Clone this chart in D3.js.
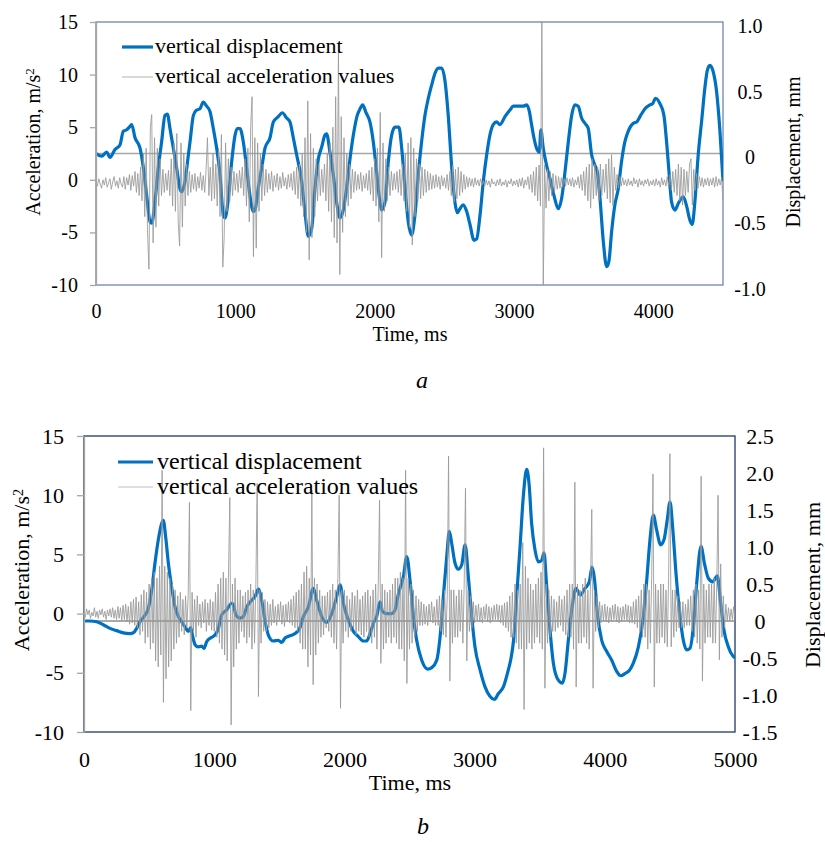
<!DOCTYPE html>
<html>
<head>
<meta charset="utf-8">
<script src="https://cdn.jsdelivr.net/npm/d3@7"></script>
<style>
  body { margin: 0; background: #fff; }
  svg { display: block; font-family: "Liberation Serif", "Times New Roman", serif; }
</style>
</head>
<body>
<svg id="fig" width="825" height="842"></svg>
<script>
// ---------- data ----------
const accTicks = [-10, -5, 0, 5, 10, 15];
const timeTicksA = [0, 1000, 2000, 3000, 4000];
const timeTicksB = [0, 1000, 2000, 3000, 4000, 5000];
const dispTicksA = [-1, -0.5, 0, 0.5, 1];
const dispTicksB = [-1.5, -1, -0.5, 0, 0.5, 1, 1.5, 2, 2.5];
const legendLabels = ["vertical displacement", "vertical acceleration values"];

// acceleration samples, one every 10 ms (m/s2)
const stepA = 10;
const accA = [
  -0.2,-0.6,0.1,-0.4,-0.8,0.0,-0.5,0.2,-0.7,-0.3,0.1,-0.9,-0.2,0.3,-0.6,-0.1,-0.8,0.2,-0.4,-0.7,
  0.3,-0.9,0.2,-0.5,0.5,-1.0,0.4,-0.6,0.8,-1.2,0.6,-1.5,1.2,-2.0,2.5,-3.5,3.0,-5.0,-8.5,5.0,
  6.2,-6.0,4.0,-4.5,3.0,-2.5,2.0,-1.5,1.0,-1.2,0.6,-1.0,0.9,-1.5,2.0,-2.5,3.5,-3.0,4.4,-4.0,
  -6.3,3.5,-4.5,2.5,-2.5,1.5,-1.5,0.8,-1.2,0.5,-0.9,0.6,-1.1,0.3,-0.8,0.7,-1.0,0.4,-1.2,1.0,
  4.0,-1.5,1.2,-2.0,2.5,-1.8,1.5,-2.5,3.0,-3.5,4.3,-8.3,-5.5,3.5,-3.0,2.0,-2.0,1.2,-1.5,0.8,
  -1.0,0.6,-1.2,0.9,-0.8,1.2,-1.5,2.0,-2.5,3.0,-4.0,5.0,7.9,-7.3,4.0,-6.5,3.5,-3.0,2.5,-2.0,
  1.5,-1.5,1.0,-1.2,0.6,-0.9,0.8,-1.1,0.4,-0.7,0.6,-1.0,0.3,-0.8,0.7,-0.6,0.2,-0.9,0.5,-0.7,
  0.6,-1.0,0.8,-1.4,1.2,-1.8,1.5,-2.5,2.5,-3.5,4.0,-5.0,7.5,-7.6,4.4,-5.5,3.0,-3.5,2.0,-2.0,
  1.5,-1.5,1.0,-1.2,1.5,-2.0,2.5,-3.0,3.5,-4.0,5.0,-5.5,7.9,-6.0,12.3,-9.0,6.0,-5.0,4.0,-3.5,
  2.5,-2.5,1.5,-1.8,1.0,-1.2,0.8,-1.0,0.5,-0.9,0.7,-1.1,0.4,-0.8,0.6,-1.0,0.9,-1.4,1.2,-2.0,
  2.0,-2.5,3.0,-4.0,6.4,-7.4,3.5,-3.0,2.0,-2.0,1.2,-1.5,0.8,-1.0,0.6,-0.9,0.8,-1.2,1.0,-1.5,
  1.5,-2.0,2.5,-3.0,3.5,-4.5,4.0,-6.2,3.0,-3.5,2.0,-2.0,1.5,-1.8,1.2,-1.5,1.0,-1.2,0.8,-1.0,
  0.6,-0.9,0.4,-0.8,0.5,-0.7,0.3,-0.9,0.4,-0.6,0.2,-0.8,0.5,-1.0,0.8,-1.5,1.4,-2.1,1.0,-1.8,
  1.2,-1.5,0.8,-1.2,0.5,-0.9,0.3,-0.7,0.2,-0.6,0.1,-0.7,0.2,-0.5,0.0,-0.6,0.1,-0.5,-0.1,-0.6,
  0.0,-0.5,-0.1,-0.7,0.1,-0.4,-0.2,-0.6,0.0,-0.5,0.1,-0.6,-0.2,-0.5,0.0,-0.7,-0.1,-0.4,0.1,-0.6,
  -0.1,-0.5,0.0,-0.7,0.1,-0.6,0.2,-0.8,0.0,-0.5,0.3,-0.9,0.5,-1.2,0.8,-1.5,1.2,-2.0,1.4,-2.5,
  15.5,-10.5,1.4,-2.7,1.0,-2.0,0.8,-1.5,0.6,-1.2,0.4,-0.9,0.3,-0.8,0.2,-0.7,0.1,-0.6,0.2,-0.5,
  0.1,-0.6,0.2,-0.7,0.0,-0.5,0.3,-0.8,0.5,-1.0,0.8,-1.5,1.2,-2.0,1.5,-2.7,2.0,-1.8,1.5,-1.5,
  1.2,-2.0,1.5,-1.5,1.0,-1.2,1.5,-1.8,2.0,-2.2,2.4,-2.5,1.2,-1.0,0.5,-0.8,0.3,-0.6,0.2,-0.5,
  0.0,-0.6,0.1,-0.5,-0.1,-0.6,0.2,-0.4,0.0,-0.7,0.1,-0.5,-0.1,-0.6,0.0,-0.4,0.1,-0.6,-0.1,-0.5,
  0.0,-0.6,0.1,-0.5,-0.1,-0.7,0.2,-0.5,0.0,-0.6,0.3,-0.8,0.5,-1.0,0.8,-1.2,1.0,-1.5,1.5,-2.0,
  1.2,-2.4,1.0,-1.5,0.8,-1.2,1.5,2.0,-2.4,1.0,-1.0,0.6,-0.8,0.3,-0.6,0.2,-0.7,0.1,-0.5,0.2,
  -0.6,0.1,-0.5,0.2,-0.7,0.3,-0.6,0.1,-0.5,0.2,-2.0
];

// displacement [time ms, mm]
const dispA = [
  [0,0.00],[41,-0.02],[77,0.01],[100,-0.03],[136,0.03],[172,0.065],[196,0.17],[220,0.18],[239,0.20],[256,0.22],
  [280,0.12],[316,0.04],[340,-0.11],[364,-0.32],[388,-0.52],[400,-0.53],[423,-0.37],[447,-0.11],[471,0.09],[495,0.29],
  [512,0.30],[531,0.19],[555,0.04],[579,-0.11],[603,-0.27],[615,-0.29],[639,-0.21],[663,-0.01],[675,0.09],[699,0.29],
  [722,0.33],[746,0.34],[770,0.39],[794,0.36],[818,0.32],[842,0.19],[866,0.04],[890,-0.16],[914,-0.47],[926,-0.49],
  [950,-0.34],[974,-0.06],[998,0.14],[1014,0.19],[1033,0.19],[1057,0.09],[1081,-0.11],[1105,-0.32],[1129,-0.44],[1141,-0.43],
  [1165,-0.26],[1189,-0.11],[1213,0.04],[1249,0.12],[1273,0.24],[1308,0.28],[1337,0.31],[1368,0.27],[1392,0.24],[1416,0.12],
  [1440,-0.01],[1476,-0.21],[1500,-0.45],[1524,-0.63],[1548,-0.57],[1572,-0.26],[1596,-0.04],[1620,0.05],[1643,0.14],[1655,0.15],
  [1679,0.01],[1703,-0.16],[1727,-0.37],[1751,-0.49],[1770,-0.45],[1799,-0.26],[1823,-0.04],[1847,0.14],[1875,0.29],[1895,0.34],
  [1914,0.37],[1938,0.31],[1966,0.24],[1990,0.09],[2014,-0.14],[2038,-0.37],[2050,-0.43],[2074,-0.37],[2098,-0.06],[2122,0.14],
  [2146,0.20],[2174,0.20],[2194,0.04],[2218,-0.26],[2241,-0.52],[2265,-0.62],[2289,-0.47],[2313,-0.16],[2337,0.09],[2361,0.29],
  [2385,0.42],[2409,0.52],[2433,0.61],[2457,0.65],[2481,0.65],[2505,0.55],[2528,0.29],[2552,-0.09],[2576,-0.37],[2593,-0.45],
  [2612,-0.42],[2636,-0.39],[2660,-0.44],[2684,-0.54],[2713,-0.66],[2732,-0.65],[2756,-0.47],[2780,-0.21],[2804,-0.01],[2827,0.14],
  [2851,0.22],[2875,0.24],[2899,0.22],[2935,0.28],[2971,0.33],[2995,0.36],[3031,0.36],[3067,0.36],[3091,0.37],[3110,0.32],
  [3126,0.22],[3143,0.12],[3162,0.04],[3182,0.01],[3193,0.18],[3210,0.04],[3234,-0.09],[3258,-0.19],[3287,-0.32],[3318,-0.42],
  [3342,-0.34],[3366,-0.14],[3390,0.09],[3414,0.29],[3437,0.37],[3461,0.36],[3485,0.27],[3509,0.23],[3533,0.19],[3557,-0.01],
  [3581,-0.09],[3598,-0.14],[3617,-0.34],[3641,-0.67],[3665,-0.86],[3681,-0.82],[3701,-0.59],[3724,-0.39],[3748,-0.27],[3772,-0.06],
  [3796,0.09],[3820,0.17],[3856,0.23],[3880,0.24],[3909,0.29],[3940,0.34],[3976,0.37],[3995,0.38],[4016,0.42],[4047,0.38],
  [4076,0.29],[4095,0.09],[4114,-0.16],[4131,-0.37],[4155,-0.43],[4179,-0.38],[4215,-0.33],[4239,-0.40],[4263,-0.51],[4279,-0.54],
  [4298,-0.37],[4322,-0.01],[4346,0.24],[4370,0.50],[4387,0.63],[4406,0.67],[4430,0.62],[4454,0.47],[4478,0.17],[4500,-0.21]
];

const stepB = 10;
const accB = [
  0.2,-0.3,0.4,-0.1,0.3,-0.4,0.1,-0.2,0.5,-0.3,0.2,-0.4,0.3,-0.1,0.4,-0.3,0.2,-0.5,0.3,-0.2,
  0.4,-0.3,0.5,-0.4,0.3,-0.5,0.6,-0.4,0.5,-0.6,0.7,-0.5,0.8,-0.7,0.6,-0.9,1.0,-0.8,1.2,-1.0,
  1.4,-1.2,1.0,-1.8,1.6,-1.5,2.0,-2.5,1.8,-2.0,2.5,-3.0,3.0,-2.5,3.5,-4.0,3.0,-4.5,4.0,-3.5,
  12.1,-7.5,4.0,-5.5,3.5,-4.5,3.0,-4.0,2.5,-3.0,2.0,-2.5,1.5,-2.0,1.8,-1.5,1.2,-1.8,1.5,-1.2,
  1.5,9.4,-8.2,1.8,-1.5,1.2,-2.0,1.5,-1.0,0.8,-1.2,1.0,-0.8,1.2,-1.5,0.9,-1.0,1.2,-1.4,1.0,
  -1.5,1.8,-2.0,2.5,-2.5,3.0,-3.0,3.5,-3.5,3.0,-4.0,3.5,9.8,-9.4,2.5,-4.5,3.0,-3.0,2.0,-2.5,
  2.0,-1.5,1.5,-2.0,1.8,-2.5,2.0,-2.0,2.5,-3.0,2.0,-2.5,2.5,11.0,-7.0,2.0,-2.5,1.8,-1.5,1.2,
  -1.5,1.0,-1.2,0.8,-1.0,1.2,-0.8,0.6,-1.0,0.8,-0.6,1.0,-0.9,0.7,-1.1,0.8,-0.7,1.0,-0.8,1.2,
  -1.0,1.5,-1.2,1.8,-1.5,2.0,-2.5,2.5,-3.0,3.5,-3.0,4.0,-4.5,3.0,-3.5,10.4,-6.0,3.0,-3.5,2.5,
  -2.5,2.0,-2.0,1.5,-1.8,1.5,-1.2,1.8,-1.5,2.0,-2.0,2.5,-2.5,2.0,-3.0,3.0,10.0,-8.0,2.0,-2.5,
  2.0,-1.5,1.5,-2.0,1.2,-1.5,1.8,-1.2,1.5,-1.8,2.0,-1.5,1.2,-1.8,1.5,-2.0,1.8,-1.5,2.0,-2.0,
  1.5,-2.5,2.0,-2.0,2.5,-3.0,2.5,9.6,-4.2,2.5,-3.0,2.0,-2.5,1.8,-2.0,2.0,-2.5,2.5,-2.0,3.0,
  -2.5,3.0,-3.0,3.5,-3.0,3.0,-4.0,12.1,-5.9,3.0,-3.0,2.5,-2.5,2.0,-2.0,1.5,-1.5,1.2,-1.0,1.0,
  -1.0,0.8,-0.9,0.6,-1.0,0.8,-0.7,1.0,-0.8,0.6,-1.0,1.2,-1.0,1.5,-1.5,1.2,-1.8,2.0,-2.0,1.5,
  13.3,-5.7,2.0,-2.5,2.0,-2.0,1.5,-2.0,2.0,-1.5,2.0,-2.5,2.5,10.6,-4.0,2.0,-1.5,1.5,-1.2,1.0,
  -0.8,0.7,-0.6,0.8,-0.7,0.5,-0.8,0.6,-0.5,0.8,-0.7,0.6,-0.8,0.5,-0.6,0.7,-0.5,0.8,-0.6,0.7,
  -0.8,0.7,-1.0,0.9,-1.2,1.0,-1.5,1.5,-2.0,1.8,-2.0,2.5,-2.5,2.0,-3.0,2.5,-3.0,6.0,-8.1,4.0,
  -3.0,3.0,-2.5,2.5,-3.0,2.0,-2.5,2.5,-2.0,3.0,-2.5,3.5,-3.0,14.0,-6.3,2.5,-2.5,2.0,-2.0,1.5,
  -1.5,1.2,-1.5,1.0,-1.2,1.5,-1.0,1.2,-1.5,1.5,-1.8,2.0,-2.0,2.5,-2.0,2.5,-3.0,11.1,-6.2,2.5,
  -2.5,2.0,-2.5,2.5,-2.0,3.0,-2.5,2.0,-3.0,2.5,8.8,-6.3,2.0,-1.5,1.5,-1.2,1.0,-0.8,0.7,-0.6,
  0.8,-0.7,0.6,-0.8,0.5,-0.6,0.7,-0.5,0.8,-0.7,0.6,-0.8,0.5,-0.7,0.6,-0.5,0.8,-0.6,0.7,-0.8,
  0.6,-0.8,1.0,-0.9,1.2,-1.2,1.5,-1.5,2.0,-2.0,2.5,-2.0,2.5,-3.0,2.0,-2.5,3.0,11.8,-6.2,2.5,
  -2.5,2.0,-2.5,2.5,-2.0,2.5,-2.5,2.0,-2.8,3.0,13.5,-2.8,2.0,-2.0,2.0,-1.5,1.5,-1.2,1.0,-1.2,
  1.0,-1.2,0.8,-1.0,1.2,-1.0,1.5,-1.5,2.0,-2.0,2.5,-2.5,2.0,-3.0,11.6,-5.7,2.5,-2.5,2.0,-2.0,
  2.5,-2.0,2.5,-2.5,3.0,-2.5,2.5,10.0,-3.9,4.2,-2.0,1.5,-1.2,0.8,-0.6,0.5,-0.6,0.4,-0.5,0.6,
  -0.4
];

const dispB = [
  [0,0.0],[46,0.0],[97,-0.01],[148,-0.05],[200,-0.10],[251,-0.13],[302,-0.16],[353,-0.17],[379,-0.16],[404,-0.10],
  [430,-0.01],[469,0.08],[494,0.17],[520,0.42],[545,0.78],[571,1.10],[597,1.32],[609,1.36],[627,1.14],[648,0.78],
  [673,0.46],[699,0.19],[725,0.06],[750,-0.01],[776,-0.08],[801,-0.14],[819,-0.09],[835,-0.21],[853,-0.32],[878,-0.35],
  [904,-0.34],[922,-0.37],[942,-0.28],[981,-0.22],[1006,-0.19],[1032,-0.10],[1057,0.08],[1096,0.15],[1134,0.24],[1147,0.22],
  [1167,0.08],[1198,0.04],[1224,0.06],[1250,0.19],[1288,0.28],[1313,0.33],[1339,0.43],[1365,0.28],[1390,0.01],[1416,-0.19],
  [1454,-0.27],[1493,-0.26],[1518,-0.29],[1544,-0.23],[1582,-0.20],[1621,-0.17],[1659,-0.09],[1685,0.06],[1723,0.19],[1762,0.44],
  [1787,0.28],[1826,0.06],[1864,-0.02],[1903,0.10],[1941,0.33],[1967,0.49],[1992,0.24],[2031,0.01],[2069,-0.14],[2107,-0.21],
  [2146,-0.27],[2171,-0.27],[2197,-0.17],[2223,-0.03],[2248,0.06],[2274,0.26],[2292,0.13],[2325,0.10],[2363,0.10],[2389,0.15],
  [2415,0.37],[2453,0.60],[2479,0.87],[2504,0.55],[2530,0.06],[2555,-0.26],[2594,-0.53],[2640,-0.65],[2671,-0.63],[2709,-0.53],
  [2735,-0.21],[2760,0.33],[2786,0.87],[2806,1.21],[2824,1.05],[2850,0.78],[2875,0.70],[2901,0.76],[2927,1.03],[2952,0.60],
  [2978,0.06],[3003,-0.35],[3042,-0.66],[3080,-0.89],[3119,-1.02],[3152,-1.06],[3183,-0.98],[3221,-0.89],[3259,-0.66],[3280,-0.50],
  [3298,-0.28],[3323,0.33],[3349,1.00],[3374,1.68],[3400,2.05],[3418,1.86],[3438,1.32],[3464,0.96],[3490,0.80],[3515,0.82],
  [3533,0.92],[3554,0.46],[3579,-0.12],[3605,-0.57],[3643,-0.80],[3674,-0.84],[3694,-0.71],[3720,-0.26],[3746,0.15],[3779,0.44],
  [3810,0.35],[3848,0.44],[3881,0.53],[3902,0.73],[3920,0.58],[3943,0.10],[3976,-0.26],[4014,-0.41],[4053,-0.53],[4091,-0.68],
  [4124,-0.74],[4155,-0.71],[4188,-0.67],[4219,-0.57],[4258,-0.35],[4296,0.06],[4322,0.55],[4347,1.10],[4373,1.43],[4398,1.23],
  [4429,1.03],[4455,1.10],[4480,1.37],[4501,1.61],[4521,1.27],[4547,0.64],[4578,0.06],[4603,-0.26],[4629,-0.39],[4654,-0.37],
  [4680,-0.08],[4706,0.51],[4739,1.01],[4765,0.78],[4795,0.58],[4829,0.53],[4864,0.61],[4890,0.24],[4915,-0.12],[4949,-0.35],
  [4987,-0.48],[5000,-0.50]
];

// ---------- drawing ----------
const svg = d3.select("#fig");
svg.append("rect").attr("width", 825).attr("height", 842).attr("fill", "#fff");

let blueColor = "#0070C0";
let greyColor = "#999999";
let axisGrey = "#A6A6A6";

function drawPanel(o) {
  let g = svg.append("g").style("font-size", o.font + "px");

  let x = d3.scaleLinear().domain([0, o.tMax]).range([o.left, o.right]);
  let yAcc = d3.scaleLinear().domain([-10, 15]).range([o.bottom, o.top]);
  let yDisp = d3.scaleLinear().domain(o.dispDomain).range([o.bottom, o.top]);

  let clipId = "clip-" + o.name;
  svg.append("clipPath").attr("id", clipId)
    .append("rect")
    .attr("x", o.left).attr("y", o.top)
    .attr("width", o.right - o.left).attr("height", o.bottom - o.top);

  // plot frame
  g.append("rect")
    .attr("x", o.left).attr("y", o.top)
    .attr("width", o.right - o.left).attr("height", o.bottom - o.top)
    .attr("fill", "none").attr("stroke", o.frameColor).attr("stroke-width", 1.3);

  // zero line of the displacement axis
  g.append("line")
    .attr("x1", o.left).attr("x2", o.right)
    .attr("y1", yDisp(0)).attr("y2", yDisp(0))
    .attr("stroke", o.zeroColor).attr("stroke-width", 1.5);

  let plot = g.append("g").attr("clip-path", "url(#" + clipId + ")");

  // displacement
  plot.append("path")
    .datum(o.disp)
    .attr("d", d3.line().x(d => x(d[0])).y(d => yDisp(d[1])).curve(d3.curveMonotoneX))
    .attr("fill", "none").attr("stroke", blueColor).attr("stroke-width", 3.2)
    .attr("stroke-linejoin", "round");

  // acceleration (drawn over the displacement, as in the original)
  plot.append("path")
    .datum(o.acc)
    .attr("d", d3.line().x((d, i) => x(i * o.step)).y(d => yAcc(d)))
    .attr("fill", "none").attr("stroke", greyColor).attr("stroke-width", 1)
    .attr("stroke-opacity", 0.85);

  // left axis
  let left = g.append("g")
    .attr("transform", "translate(" + o.left + ",0)")
    .call(d3.axisLeft(yAcc).tickValues(accTicks).tickSize(o.tick).tickSizeOuter(0)
      .tickPadding(o.leftPad).tickFormat(d => String(d)));
  left.attr("font-size", null).attr("font-family", null);
  left.select(".domain").attr("stroke", axisGrey).attr("stroke-width", 1.3);
  left.selectAll(".tick line").attr("stroke", axisGrey).attr("stroke-width", 1.3);
  left.selectAll("text").attr("fill", "#000");

  // right axis
  let right = g.append("g")
    .attr("transform", "translate(" + o.right + "," + o.rightDy + ")")
    .call(d3.axisRight(yDisp).tickValues(o.dispTicks).tickSize(0).tickSizeOuter(0)
      .tickPadding(o.rightPad).tickFormat(d => d === 0 ? "0" : d.toFixed(1)));
  right.attr("font-size", null).attr("font-family", null);
  right.select(".domain").remove();
  right.selectAll("text").attr("fill", "#000").attr("text-anchor", "middle");

  // bottom axis
  let bottom = g.append("g")
    .attr("transform", "translate(0," + o.bottom + ")")
    .call(d3.axisBottom(x).tickValues(o.timeTicks).tickSize(0).tickSizeOuter(0)
      .tickPadding(o.bottomPad).tickFormat(d => String(d)));
  bottom.attr("font-size", null).attr("font-family", null);
  bottom.select(".domain").remove();
  bottom.selectAll("text").attr("fill", "#000");

  // axis titles
  g.append("text")
    .attr("x", o.timeTitle[0]).attr("y", o.timeTitle[1])
    .attr("text-anchor", "middle").text("Time, ms");

  let accTitle = g.append("text")
    .attr("transform", "translate(" + o.accTitle[0] + "," + o.accTitle[1] + ") rotate(-90)")
    .attr("text-anchor", "middle");
  accTitle.append("tspan").text("Acceleration, m/s");
  accTitle.append("tspan").attr("dy", "-0.45em").style("font-size", "0.65em").text("2");

  g.append("text")
    .attr("transform", "translate(" + o.dispTitle[0] + "," + o.dispTitle[1] + ") rotate(-90)")
    .attr("text-anchor", "middle").text("Displacement, mm");

  // legend
  let lg = g.append("g").style("font-size", o.legFont + "px");
  lg.append("line")
    .attr("x1", o.legX).attr("x2", o.legX + o.legLen)
    .attr("y1", o.legY[0]).attr("y2", o.legY[0])
    .attr("stroke", blueColor).attr("stroke-width", 3.2);
  lg.append("line")
    .attr("x1", o.legX).attr("x2", o.legX + o.legLen)
    .attr("y1", o.legY[1]).attr("y2", o.legY[1])
    .attr("stroke", "#BFBFBF").attr("stroke-width", 1.2);
  legendLabels.forEach((t, i) => {
    lg.append("text")
      .attr("x", o.legX + o.legLen + o.legGap).attr("y", o.legY[i] + o.legBase)
      .text(t);
  });

  // panel caption
  g.append("text")
    .attr("x", o.caption[0]).attr("y", o.caption[1])
    .attr("text-anchor", "middle").style("font-style", "italic").style("font-size", "24px")
    .text(o.name);
}

drawPanel({
  name: "a", font: 20, legFont: 22,
  left: 96, right: 723, top: 22, bottom: 285,
  tMax: 4500, dispDomain: [-1, 1],
  acc: accA, step: stepA, disp: dispA,
  dispTicks: dispTicksA, timeTicks: timeTicksA,
  tick: 6, leftPad: 12, rightPad: 27, rightDy: 4, bottomPad: 19,
  frameColor: "#6E84B2", zeroColor: "#A6A6A6",
  timeTitle: [410, 341], accTitle: [40, 142], dispTitle: [800, 152],
  legX: 122, legLen: 31, legGap: 2, legY: [47, 77], legBase: 6,
  caption: [422, 388]
});

drawPanel({
  name: "b", font: 22, legFont: 24,
  left: 84, right: 735, top: 436, bottom: 732,
  tMax: 5000, dispDomain: [-1.5, 2.5],
  acc: accB, step: stepB, disp: dispB,
  dispTicks: dispTicksB, timeTicks: timeTicksB,
  tick: 7, leftPad: 13, rightPad: 25, rightDy: 0, bottomPad: 19,
  frameColor: "#1F3868", zeroColor: "#8C8C8C",
  timeTitle: [410, 790], accTitle: [29, 570], dispTitle: [820, 585],
  legX: 118, legLen: 35, legGap: 4, legY: [462, 487], legBase: 7,
  caption: [423, 834]
});
</script>
</body>
</html>
